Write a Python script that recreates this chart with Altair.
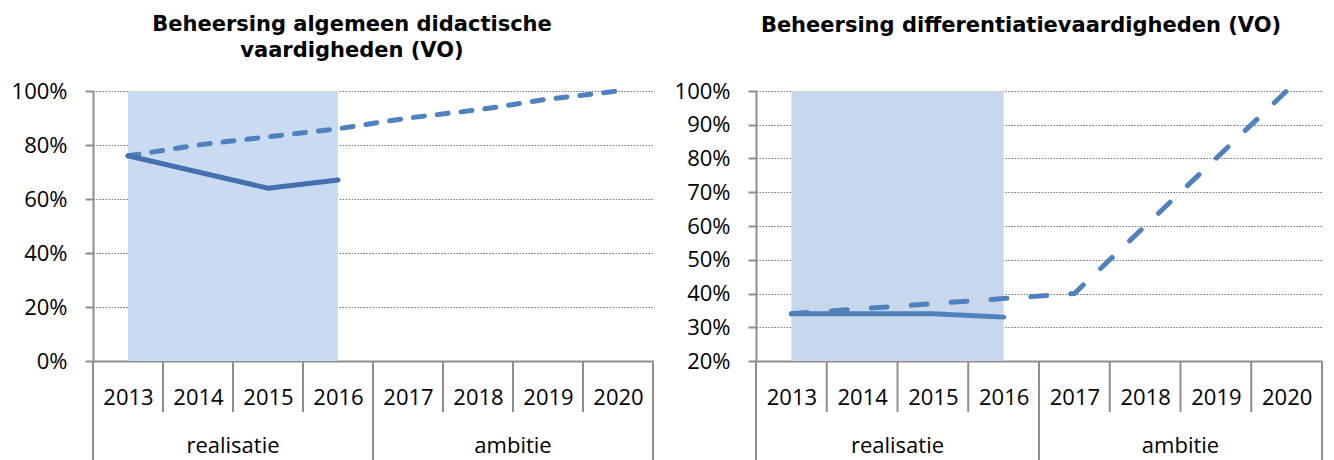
import altair as alt
import pandas as pd

# ---- data ----
years = [2013, 2014, 2015, 2016, 2017, 2018, 2019, 2020]
phases = ["realisatie", "realisatie", "realisatie", "realisatie",
          "ambitie", "ambitie", "ambitie", "ambitie"]

left_title = ["Beheersing algemeen didactische", "vaardigheden (VO)"]
left_realised = [0.76, 0.70, 0.64, 0.67]
left_ambition = [0.76, 0.80, 0.83, 0.86, 0.90, 0.93, 0.97, 1.00]
left_ticks = [0.0, 0.2, 0.4, 0.6, 0.8, 1.0]

right_title = ["Beheersing differentiatievaardigheden (VO)"]
right_realised = [0.34, 0.34, 0.34, 0.33]
right_ambition = [0.34, 0.355, 0.37, 0.385, 0.40, 0.60, 0.80, 1.00]
right_ticks = [0.2, 0.3, 0.4, 0.5, 0.6, 0.7, 0.8, 0.9, 1.0]

GRAY = "#8E8E8E"
FONT = "Open Sans"


def panel(realised, ambition, y_ticks, w, h, title, title_dx, title_offset,
          shade, solid_color, dash_color, dash):
    x_scale = alt.Scale(domain=[years[0] - 0.5, years[-1] + 0.5], nice=False, zero=False)
    y_scale = alt.Scale(domain=[y_ticks[0], y_ticks[-1]], nice=False, zero=False)

    df_real = pd.DataFrame({"year": years[:len(realised)], "value": realised})
    df_amb = pd.DataFrame({"year": years, "value": ambition})
    shade_df = pd.DataFrame({"start": [years[0]], "end": [years[len(realised) - 1]]})

    year_edges = pd.DataFrame({"edge": [y - 0.5 for y in years] + [years[-1] + 0.5]})
    g_edges = [years[i] - 0.5 for i in range(len(years)) if i == 0 or phases[i] != phases[i - 1]]
    g_edges.append(years[-1] + 0.5)
    group_edges = pd.DataFrame({"edge": g_edges})

    centers = {}
    for y, p in zip(years, phases):
        centers.setdefault(p, []).append(y)
    group_df = pd.DataFrame({"phase": list(centers.keys()),
                             "center": [sum(v) / len(v) for v in centers.values()]})

    x_axis = alt.Axis(values=years, format="d", ticks=False, grid=False, domain=True,
                      domainColor=GRAY, domainWidth=2, labelPadding=26, title=None,
                      labelFont=FONT, labelFontSize=22, labelColor="black",
                      labelAngle=0)
    y_axis = alt.Axis(values=y_ticks, format=".0%", grid=True, gridColor="#707070",
                      gridDash=[1.5, 1.5], gridWidth=1, tickSize=8, tickColor=GRAY,
                      tickWidth=2, domain=True, domainColor=GRAY, domainWidth=2,
                      labelPadding=18, title=None, labelFont=FONT, labelFontSize=22,
                      labelColor="black")

    def X(field):
        return alt.X(field, scale=x_scale, axis=x_axis, title=None)

    def Y(field):
        return alt.Y(field, scale=y_scale, axis=y_axis, title=None)

    rect = alt.Chart(shade_df).mark_rect(color=shade).encode(
        x=X("start:Q"), x2="end:Q",
        y=alt.value(0), y2=alt.value(h))

    amb_line = alt.Chart(df_amb).mark_line(
        color=dash_color, strokeWidth=5, strokeDash=dash, strokeCap="round").encode(
        x=X("year:Q"), y=Y("value:Q"))

    real_line = alt.Chart(df_real).mark_line(
        color=solid_color, strokeWidth=5, strokeCap="round", strokeJoin="round").encode(
        x=X("year:Q"), y=Y("value:Q"))

    year_sep = alt.Chart(year_edges).mark_rule(color=GRAY, strokeWidth=2).encode(
        x=X("edge:Q"), y=alt.value(h), y2=alt.value(h + 51))

    group_sep = alt.Chart(group_edges).mark_rule(color=GRAY, strokeWidth=2).encode(
        x=X("edge:Q"), y=alt.value(h), y2=alt.value(h + 120))

    group_text = alt.Chart(group_df).mark_text(
        font=FONT, fontSize=22, color="black", baseline="middle").encode(
        x=X("center:Q"), y=alt.value(h + 85), text="phase:N")

    return alt.layer(rect, year_sep, group_sep, amb_line, real_line, group_text).properties(
        width=w, height=h,
        title=alt.TitleParams(text=title, font="DejaVu Sans", fontWeight="bold",
                              fontSize=21, lineHeight=26, anchor="middle", frame="group",
                              dx=title_dx, offset=title_offset, color="black"))


left = panel(left_realised, left_ambition, left_ticks, 560, 270, left_title,
             -21, 19, "#C9DBF1", "#4471AD", "#4F81BD", [11, 13])
right = panel(right_realised, right_ambition, right_ticks, 566, 270, right_title,
              -18, 44, "#C8D7EB", "#4F81BD", "#4F81BD", [16, 24])

chart = alt.hconcat(left, right, spacing=20).configure(
    padding={"left": 3, "top": 6, "right": 0, "bottom": 0}
).configure_view(stroke=None)

chart.save("out.html", embed_options={"renderer": "svg", "actions": False})
